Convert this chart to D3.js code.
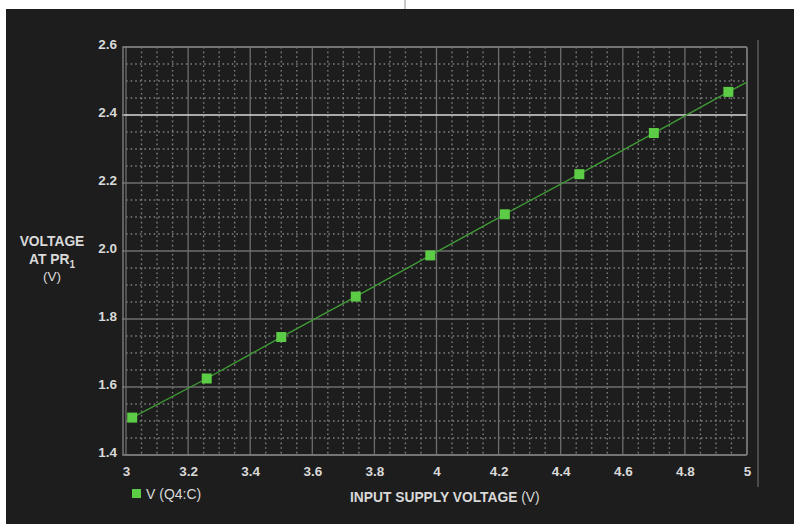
<!DOCTYPE html>
<html><head><meta charset="utf-8">
<script src="https://cdn.jsdelivr.net/npm/d3@7"></script>
<style>html,body{margin:0;padding:0;background:#fff;}svg{display:block;}</style>
</head><body>
<script>
// Data
const inputVoltage = [3.02, 3.26, 3.50, 3.74, 3.98, 4.22, 4.46, 4.70, 4.94];
const prVoltage    = [1.51, 1.625, 1.747, 1.866, 1.987, 2.108, 2.226, 2.347, 2.468];
const lineEnd = {x: 5.0, y: 2.497};
const xTicks = [3, 3.2, 3.4, 3.6, 3.8, 4, 4.2, 4.4, 4.6, 4.8, 5];
const yTicks = [1.4, 1.6, 1.8, 2.0, 2.2, 2.4, 2.6];
const xTickLabels = ["3","3.2","3.4","3.6","3.8","4","4.2","4.4","4.6","4.8","5"];
const yTickLabels = ["1.4","1.6","1.8","2.0","2.2","2.4","2.6"];
const seriesName = "V (Q4:C)";
const xTitle = "INPUT SUPPLY VOLTAGE";
const yTitleLines = ["VOLTAGE", "AT PR", "(V)"];

const W = 794, H = 524;
const svg = d3.select("body").append("svg").attr("width", W).attr("height", H);

// page background
svg.append("rect").attr("width", W).attr("height", H).attr("fill", "#ffffff");
svg.append("rect").attr("x", 6).attr("y", 9).attr("width", W - 6).attr("height", H - 9).attr("fill", "#1d1d1d");
svg.append("line").attr("x1", 405).attr("x2", 405).attr("y1", 0).attr("y2", 9).attr("stroke", "#c8c8c8").attr("stroke-width", 2);

const x = d3.scaleLinear().domain([3, 5]).range([126, 747]);
const y = d3.scaleLinear().domain([1.4, 2.6]).range([455, 47]);

const font = "'Liberation Sans', Arial, sans-serif";
const txt = "#d9d9d9";

// minor grid (dotted)
const xMinor = d3.range(0, 41).map(i => 3 + i * 0.05).filter(v => Math.abs((v * 5) - Math.round(v * 5)) > 1e-6);
const yMinor = d3.range(0, 25).map(i => 1.4 + i * 0.05).filter(v => Math.abs((v * 5) - Math.round(v * 5)) > 1e-6);
const g = svg.append("g");
g.selectAll(".vminor").data(xMinor).join("line")
  .attr("x1", d => x(d)).attr("x2", d => x(d)).attr("y1", y(2.6)).attr("y2", y(1.4))
  .attr("stroke", "#7e7e7e").attr("stroke-width", 1.4).attr("stroke-dasharray", "1.6,3");
g.selectAll(".hminor").data(yMinor).join("line")
  .attr("x1", x(3)).attr("x2", x(5)).attr("y1", d => y(d)).attr("y2", d => y(d))
  .attr("stroke", "#7e7e7e").attr("stroke-width", 1.4).attr("stroke-dasharray", "1.6,3");

// major grid
g.selectAll(".vmajor").data(xTicks).join("line")
  .attr("x1", d => x(d)).attr("x2", d => x(d)).attr("y1", y(2.6)).attr("y2", y(1.4))
  .attr("stroke", "#6e6e6e").attr("stroke-width", 1.3);
g.selectAll(".hmajor").data(yTicks).join("line")
  .attr("x1", x(3) - 4).attr("x2", x(5)).attr("y1", d => y(d)).attr("y2", d => y(d))
  .attr("stroke", d => d === 2.4 ? "#d8d8d8" : "#6e6e6e")
  .attr("stroke-width", d => d === 2.4 ? 1.5 : 1.3);

// frame
svg.append("rect").attr("x", x(3) - 3).attr("y", y(2.6)).attr("width", x(5) - x(3) + 3).attr("height", y(1.4) - y(2.6))
  .attr("fill", "none").attr("stroke", "#7d7d7d").attr("stroke-width", 1.4).attr("rx", 2);

// right separator line
svg.append("line").attr("x1", 758).attr("x2", 758).attr("y1", 40).attr("y2", 487)
  .attr("stroke", "#5a5a5a").attr("stroke-width", 1.5);

// axes tick labels via d3 axes
const xAxis = d3.axisBottom(x).tickValues(xTicks).tickFormat((d, i) => xTickLabels[i]).tickSize(0).tickPadding(8);
const xa = svg.append("g").attr("transform", `translate(0,${y(1.4)})`).call(xAxis);
xa.select(".domain").remove();
xa.selectAll("text").attr("fill", txt).attr("font-family", font).attr("font-size", 13.5).attr("font-weight", "bold").attr("dy", "0.95em");

const yAxis = d3.axisLeft(y).tickValues(yTicks).tickFormat((d, i) => yTickLabels[i]).tickSize(0).tickPadding(9);
const ya = svg.append("g").attr("transform", `translate(${x(3)},0)`).call(yAxis);
ya.select(".domain").remove();
ya.selectAll("text").attr("fill", txt).attr("font-family", font).attr("font-size", 13.5).attr("font-weight", "bold").attr("dy", "0.1em");

// series line
const pts = inputVoltage.map((v, i) => ({x: v, y: prVoltage[i]})).concat([lineEnd]);
svg.append("path").datum(pts)
  .attr("d", d3.line().x(d => x(d.x)).y(d => y(d.y)))
  .attr("fill", "none").attr("stroke", "#3f9a35").attr("stroke-width", 1.4);

// markers
const ms = 10;
svg.selectAll(".mk").data(inputVoltage).join("rect")
  .attr("x", d => x(d) - ms / 2).attr("y", (d, i) => y(prVoltage[i]) - ms / 2)
  .attr("width", ms).attr("height", ms).attr("fill", "#5ccb45");

// legend
svg.append("rect").attr("x", 132).attr("y", 489).attr("width", 9).attr("height", 9).attr("fill", "#5ccb45");
svg.append("text").attr("x", 146).attr("y", 498.5).text(seriesName)
  .attr("fill", txt).attr("font-family", font).attr("font-size", 14);

// x title
const xt = svg.append("text").attr("x", 350).attr("y", 502).attr("fill", txt).attr("font-family", font).attr("font-size", 13.8);
xt.append("tspan").attr("font-weight", "bold").text(xTitle + " ");
xt.append("tspan").text("(V)");

// y title
const yt = svg.append("g").attr("font-family", font).attr("fill", txt).attr("text-anchor", "middle");
yt.append("text").attr("x", 52).attr("y", 246).attr("font-size", 13.8).attr("font-weight", "bold").text(yTitleLines[0]);
const l2 = yt.append("text").attr("x", 52).attr("y", 264).attr("font-size", 13.8).attr("font-weight", "bold");
l2.append("tspan").text(yTitleLines[1]);
l2.append("tspan").attr("font-size", 10).attr("dy", 4).text("1");
yt.append("text").attr("x", 52).attr("y", 281).attr("font-size", 13.5).text(yTitleLines[2]);
</script>
</body></html>
